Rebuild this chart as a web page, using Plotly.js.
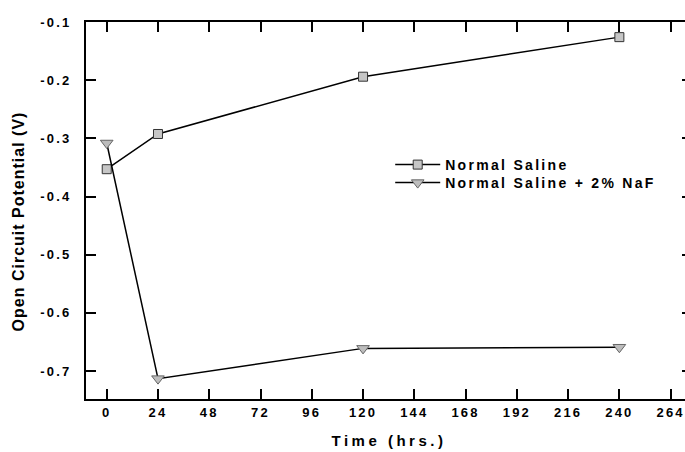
<!DOCTYPE html>
<html>
<head>
<meta charset="utf-8">
<script src="https://cdn.plot.ly/plotly-3.0.1.min.js"></script>
<style>
  html, body { margin: 0; padding: 0; overflow: hidden; background: #fff; }
  #chart { width: 700px; height: 452px; }
  .xtick text, .ytick text { letter-spacing: 2.2px; }
  .g-xtitle text { letter-spacing: 3.5px; }
  .g-ytitle text { letter-spacing: 1px; }
  g.g-ytitle { transform: translate(0px, 11px); }
  text.legendtext, text.legend2text { letter-spacing: 2.3px; }
</style>
</head>
<body>
<div id="chart"></div>
<script>
const timeHrs = [0, 24, 120, 240];
const normalSaline = [-0.353, -0.2925, -0.194, -0.126];
const salineNaF = [-0.308, -0.713, -0.661, -0.659];
const xTickVals = [0, 24, 48, 72, 96, 120, 144, 168, 192, 216, 240, 264];
const yTickVals = [-0.7, -0.6, -0.5, -0.4, -0.3, -0.2, -0.1];
const seriesNames = ["Normal Saline", "Normal Saline + 2% NaF"];

const fontFam = "Liberation Sans, Arial, Helvetica, sans-serif";

const traces = [
  {
    x: timeHrs, y: normalSaline, name: seriesNames[0], legend: "legend",
    type: "scatter", mode: "lines+markers",
    line: { color: "#000", width: 1.5 },
    marker: { symbol: "square", size: 9, color: "#c6c6c6", line: { color: "#333", width: 1 } }
  },
  {
    x: timeHrs, y: salineNaF, name: seriesNames[1], legend: "legend2",
    type: "scatter", mode: "lines+markers",
    line: { color: "#000", width: 1.5 },
    marker: { symbol: "triangle-down", size: 11, color: "#bdbdbd", line: { color: "#666", width: 1 } }
  }
];

const axisCommon = {
  showline: true, linecolor: "#000", linewidth: 2,
  ticks: "inside", ticklen: 10, tickwidth: 2, tickcolor: "#000",
  showgrid: false, zeroline: false, mirror: "ticks",
  tickfont: { family: fontFam, size: 13, color: "#000", weight: "bold" }
};

const plotTop = 22, plotH = 377;
function paperY(px) { return 1 - (px - plotTop) / plotH; }
function makeLegend(yPx) {
  return {
    x: 0.502, y: paperY(yPx), xanchor: "left", yanchor: "middle",
    bgcolor: "rgba(0,0,0,0)", borderwidth: 0,
    font: { family: fontFam, size: 14, color: "#000", weight: "bold" },
    itemwidth: 45
  };
}

const layout = {
  width: 700, height: 452,
  margin: { l: 86, r: 8, t: 22, b: 53 },
  paper_bgcolor: "#fff", plot_bgcolor: "#fff",
  showlegend: true,
  legend: makeLegend(165),
  legend2: makeLegend(183),
  xaxis: Object.assign({}, axisCommon, {
    range: [-9.7, 274],
    tickmode: "array", tickvals: xTickVals, ticktext: xTickVals.map(String),
    ticklabelstandoff: 0,
    title: { text: "Time (hrs.)", font: { family: fontFam, size: 15, color: "#000", weight: "bold" }, standoff: 17 }
  }),
  yaxis: Object.assign({}, axisCommon, {
    range: [-0.748, -0.1],
    tickmode: "array", tickvals: yTickVals, ticktext: yTickVals.map(v => v.toFixed(1)),
    ticklabelstandoff: 10,
    title: { text: "Open Circuit Potential (V)", font: { family: fontFam, size: 16, color: "#000", weight: "bold" }, standoff: 12 }
  })
};

Plotly.newPlot("chart", traces, layout, { displayModeBar: false, staticPlot: true });
</script>
</body>
</html>
